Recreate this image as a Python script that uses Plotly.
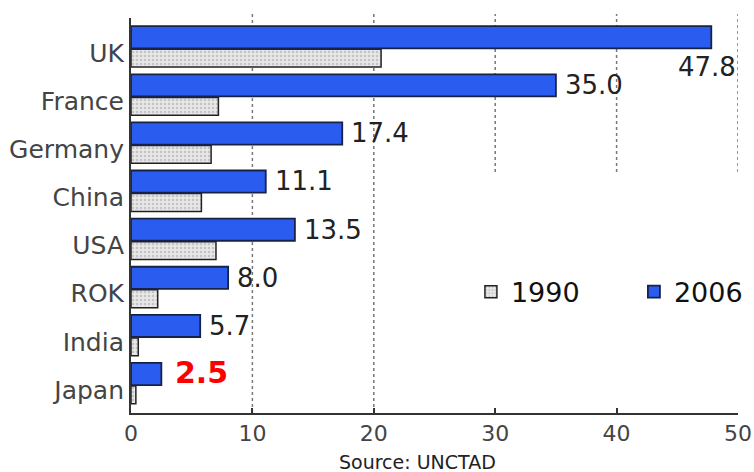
import plotly.graph_objects as go

categories = ["UK", "France", "Germany", "China", "USA", "ROK", "India", "Japan"]
v1990 = [20.6, 7.2, 6.6, 5.8, 7.0, 2.2, 0.6, 0.4]
v2006 = [47.8, 35.0, 17.4, 11.1, 13.5, 8.0, 5.7, 2.5]
x_ticks = [0, 10, 20, 30, 40, 50]
source_text = "Source: UNCTAD"

FONT = "DejaVu Sans, Verdana, sans-serif"

fig = go.Figure()
fig.add_trace(go.Bar(
    name="1990", y=categories, x=v1990, orientation="h",
    offset=-0.29, width=0.37,
    marker=dict(color="#e2e2e2", line=dict(color="#222222", width=1.5),
                pattern=dict(shape=".", fgcolor="#a0a0a0", bgcolor="#e8e8e8", size=4, solidity=0.35)),
))
fig.add_trace(go.Bar(
    name="2006", y=categories, x=v2006, orientation="h",
    offset=0.1, width=0.46,
    marker=dict(color="#2a5cf0", line=dict(color="#16224a", width=1.8)),
))

# value labels for 2006
for c, v in zip(categories, v2006):
    if c == "UK":
        fig.add_annotation(x=v, y=c, text=f"{v:.1f}", showarrow=False, xanchor="center",
                           xshift=-4, yshift=-14, font=dict(family=FONT, size=26, color="#222222"))
    elif c == "Japan":
        fig.add_annotation(x=v, y=c, text=f"<b>{v:.1f}</b>", showarrow=False, xanchor="left",
                           xshift=12, yshift=17, font=dict(family=FONT, size=30, color="#ff0000"))
    else:
        fig.add_annotation(x=v, y=c, text=f"{v:.1f}", showarrow=False, xanchor="left",
                           xshift=7, yshift=16, font=dict(family=FONT, size=26, color="#222222"))

# dotted gridlines
for t in x_ticks[1:]:
    y0 = 0 if t <= 20 else 0.61
    fig.add_shape(type="line", xref="x", yref="paper", x0=t, x1=t, y0=y0, y1=1.01,
                  line=dict(color="#777777", width=1.5, dash="dot"), layer="below")

fig.add_annotation(xref="paper", yref="paper", x=0.472, y=-0.124, text=source_text,
                   showarrow=False, xanchor="center", yanchor="middle",
                   font=dict(family=FONT, size=19, color="#222222"))

fig.update_layout(
    width=754, height=472,
    margin=dict(l=131, r=16, t=18, b=59, autoexpand=False),
    paper_bgcolor="white", plot_bgcolor="white",
    barmode="overlay",
    showlegend=True,
    legend=dict(orientation="h", x=0.56, xanchor="left", y=0.306, yanchor="middle",
                font=dict(family=FONT, size=27, color="#111111"), bgcolor="rgba(0,0,0,0)",
                entrywidth=118, traceorder="normal"),
    xaxis=dict(range=[0, 50], tickvals=x_ticks, ticktext=[str(t) for t in x_ticks],
               showgrid=False, zeroline=False, showline=True, linecolor="#333333", linewidth=2,
               ticks="inside", ticklen=5, tickcolor="#333333", tickwidth=1.5, automargin=False,
               ticklabeloverflow="allow",
               tickfont=dict(family=FONT, size=22, color="#444444")),
    yaxis=dict(categoryorder="array", categoryarray=categories[::-1], range=[-0.48, 7.73],
               showgrid=False, zeroline=False, showline=True, linecolor="#333333", linewidth=2,
               ticks="", automargin=False, tickfont=dict(family=FONT, size=25, color="#444444")),
)

fig.write_html("out.html")
